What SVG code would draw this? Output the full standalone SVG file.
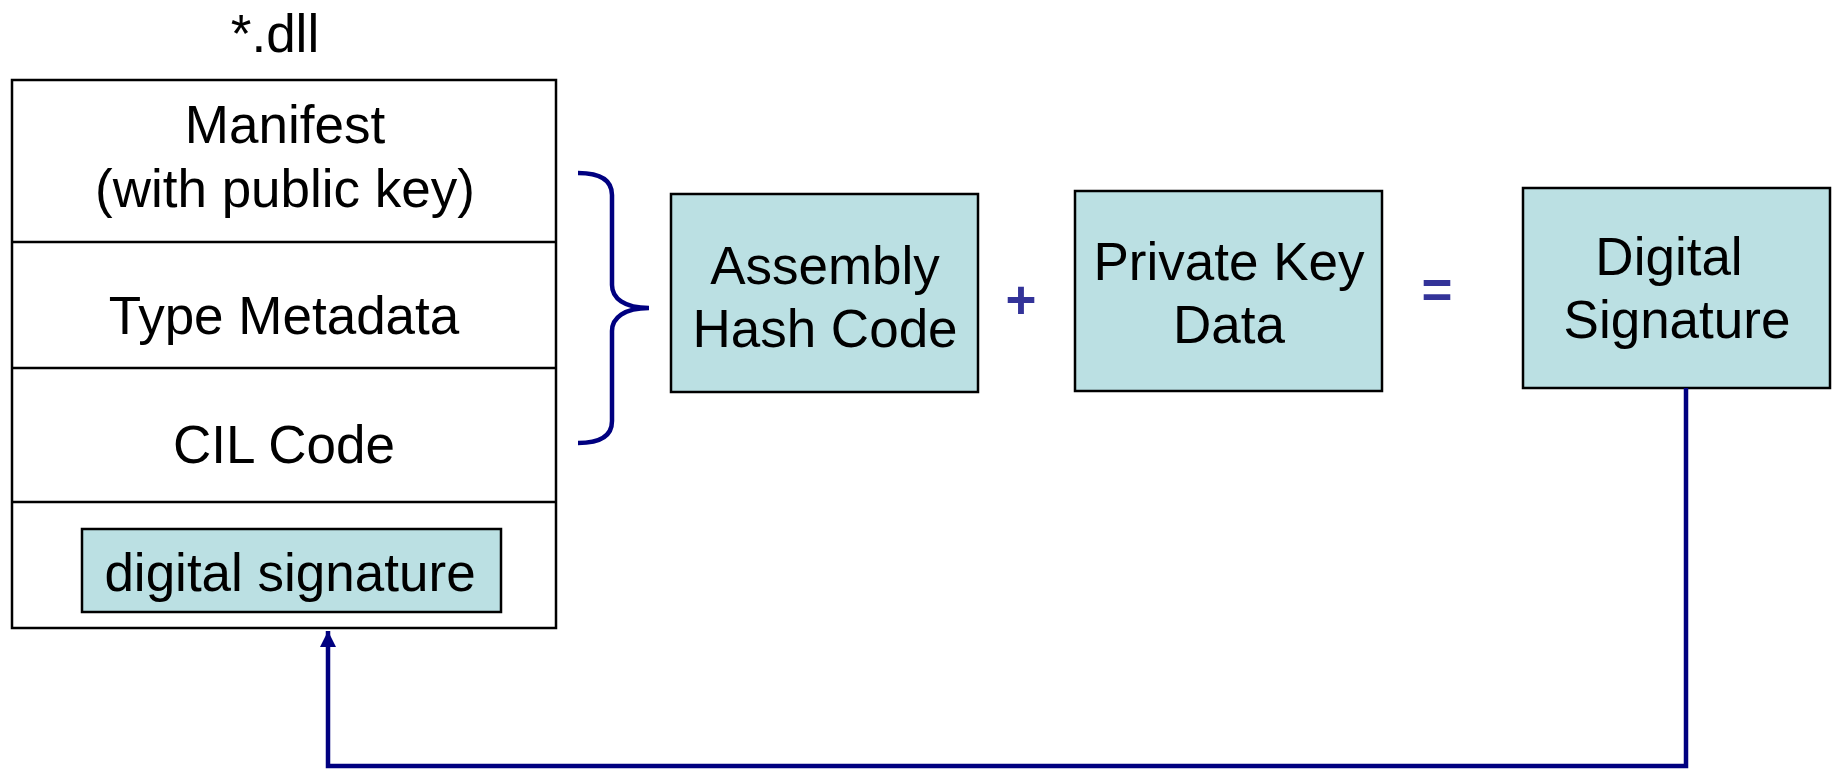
<svg xmlns="http://www.w3.org/2000/svg" width="1837" height="770" viewBox="0 0 1837 770">
  <style>
    .lbl { font-family: "Liberation Sans", Arial, sans-serif; font-size: 53px; fill: #000; text-anchor: middle; }
    .op { font-family: "Liberation Sans", Arial, sans-serif; font-size: 53px; font-weight: bold; fill: #333399; text-anchor: middle; }
    .sect { fill: #fff; stroke: #000; stroke-width: 2.5; }
    .box { fill: #BBE0E3; stroke: #000; stroke-width: 2.5; }
    .wire { fill: none; stroke: #000080; stroke-width: 4.5; }
  </style>
  <defs>
    <marker id="arrow" viewBox="0 0 10 10" refX="10" refY="5" markerWidth="3.6" markerHeight="3.6" markerUnits="strokeWidth" orient="auto">
      <path d="M0,0 L10,5 L0,10 Z" fill="#000080"/>
    </marker>
  </defs>
  <rect width="1837" height="770" fill="#fff"/>

  <!-- assembly file -->
  <g id="dll">
    <text class="lbl" x="275" y="52">*.dll</text>
    <rect class="sect" x="12" y="80" width="544" height="548"/>
    <line x1="12" y1="242" x2="556" y2="242" stroke="#000" stroke-width="2.5"/>
    <line x1="12" y1="368" x2="556" y2="368" stroke="#000" stroke-width="2.5"/>
    <line x1="12" y1="502" x2="556" y2="502" stroke="#000" stroke-width="2.5"/>
  </g>
  <g id="manifest">
    <text class="lbl" x="285" y="143">Manifest</text>
    <text class="lbl" x="285" y="207">(with public key)</text>
  </g>
  <g id="type-metadata">
    <text class="lbl" x="284" y="334">Type Metadata</text>
  </g>
  <g id="cil-code">
    <text class="lbl" x="284" y="463">CIL Code</text>
  </g>
  <g id="embedded-signature">
    <rect class="box" x="82" y="529" width="419" height="83"/>
    <text class="lbl" x="290" y="591">digital signature</text>
  </g>

  <!-- signing inputs and result -->
  <g id="hash">
    <rect class="box" x="671" y="194" width="307" height="198"/>
    <text class="lbl" x="825" y="284">Assembly</text>
    <text class="lbl" x="825" y="347">Hash Code</text>
  </g>
  <g id="plus">
    <text class="op" x="1021" y="318">+</text>
  </g>
  <g id="private-key">
    <rect class="box" x="1075" y="191" width="307" height="200"/>
    <text class="lbl" x="1229" y="280">Private Key</text>
    <text class="lbl" x="1229" y="343">Data</text>
  </g>
  <g id="equals">
    <text class="op" x="1437" y="308">=</text>
  </g>
  <g id="signature">
    <rect class="box" x="1523" y="188" width="307" height="200"/>
    <text class="lbl" x="1669" y="275">Digital</text>
    <text class="lbl" x="1677" y="338">Signature</text>
  </g>

  <!-- connectors -->
  <g id="connectors">
    <path class="wire" d="M578,173 C600,173 612,180 612,195 L612,285 C612,298 624,308 649,308 C624,308 612,318 612,331 L612,421 C612,436 600,443 578,443"/>
    <path class="wire" d="M1686,388 L1686,766 L328,766 L328,631" marker-end="url(#arrow)"/>
  </g>
</svg>
